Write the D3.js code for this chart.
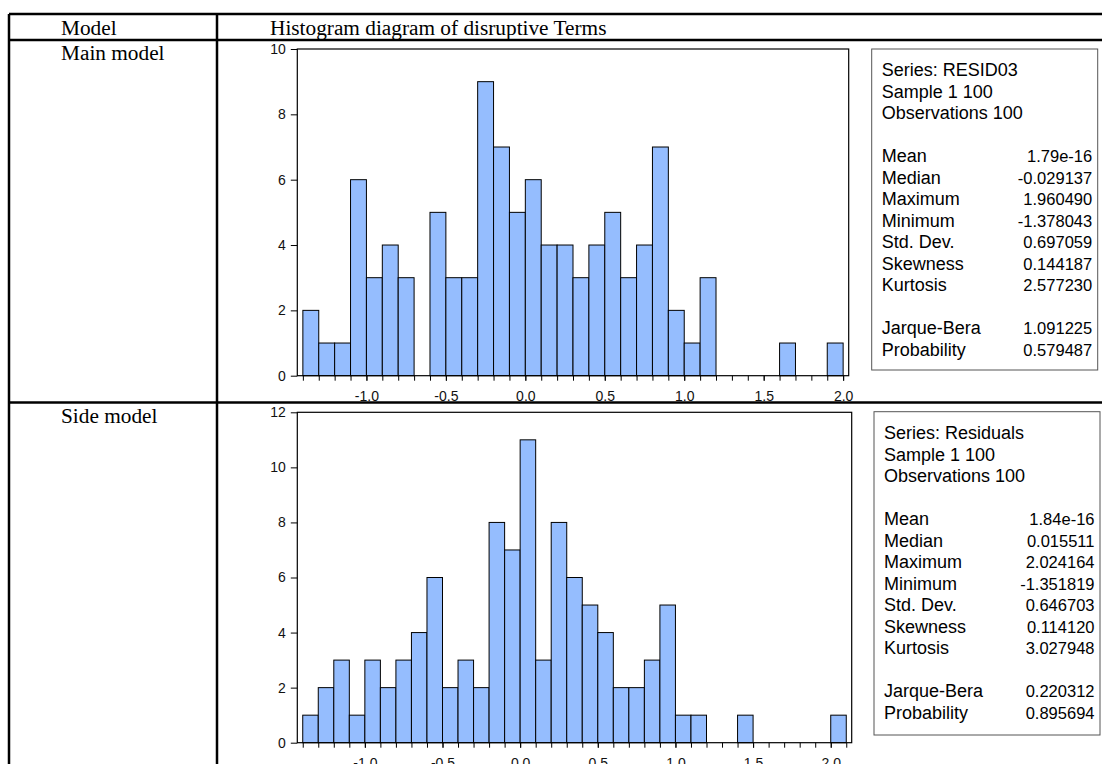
<!DOCTYPE html>
<html><head><meta charset="utf-8">
<script src="https://cdn.jsdelivr.net/npm/d3@7"></script>
<style>body{margin:0;background:#fff}svg{display:block}</style>
</head><body>
<svg id="c" width="1102" height="764"></svg>
<script>
// ---------- data ----------
const headers = ["Model", "Histogram diagram of disruptive Terms"];
const rowLabels = ["Main model", "Side model"];
const binStart = -1.4, binWidth = 0.1;
const mainCounts = [2,1,1,6,3,4,3,0,5,3,3,9,7,5,6,4,4,3,4,5,3,4,7,2,1,3,0,0,0,0,1,0,0,1];
const sideCounts = [1,2,3,1,3,2,3,4,6,2,3,2,8,7,11,3,8,6,5,4,2,2,3,5,1,1,0,0,1,0,0,0,0,0,1];
const mainYTicks = [0,2,4,6,8,10];
const sideYTicks = [0,2,4,6,8,10,12];
const xTickLabels = [-1.0,-0.5,0.0,0.5,1.0,1.5,2.0];
const mainHeader = ["Series: RESID03","Sample 1 100","Observations 100"];
const sideHeader = ["Series: Residuals","Sample 1 100","Observations 100"];
const statLabels = ["Mean","Median","Maximum","Minimum","Std. Dev.","Skewness","Kurtosis"];
const mainStats = ["1.79e-16","-0.029137","1.960490","-1.378043","0.697059","0.144187","2.577230"];
const sideStats = ["1.84e-16","0.015511","2.024164","-1.351819","0.646703","0.114120","3.027948"];
const testLabels = ["Jarque-Bera","Probability"];
const mainTests = ["1.091225","0.579487"];
const sideTests = ["0.220312","0.895694"];

// ---------- layout ----------
const svg = d3.select("#c");
const serif = "'Liberation Serif','Times New Roman',serif";
const sans = "'Liberation Sans',Arial,sans-serif";

const T = {left: 9, right: 1110, top: 14, head: 40, mid: 402.5, bottom: 800, col: 217};
const grid = svg.append("g").attr("stroke","#000").attr("stroke-width",2.5);
[[T.left,T.top,T.right,T.top],[T.left,T.head,T.right,T.head],[T.left,T.mid,T.right,T.mid],
 [T.left,T.top,T.left,T.bottom],[T.col,T.top,T.col,T.bottom]].forEach(l=>
  grid.append("line").attr("x1",l[0]).attr("y1",l[1]).attr("x2",l[2]).attr("y2",l[3]));

const tt = svg.append("g").attr("font-family",serif).attr("font-size",21.3).attr("fill","#000");
tt.append("text").attr("x",61).attr("y",35).text(headers[0]);
tt.append("text").attr("x",270).attr("y",35).text(headers[1]);
tt.append("text").attr("x",61).attr("y",60).text(rowLabels[0]);
tt.append("text").attr("x",61).attr("y",423).text(rowLabels[1]);

const fmt1 = d => d.toFixed(1);

function histogram(counts, yTicks, box, header, stats, tests, sbox) {
  const nb = counts.length;
  const bins = counts.map((c,i)=>({x0: binStart + i*binWidth, x1: binStart + (i+1)*binWidth, c}));
  const pad = 0.035;
  const x = d3.scaleLinear().domain([binStart - pad, binStart + nb*binWidth + pad]).range([box.l, box.r]);
  const y = d3.scaleLinear().domain([0, yTicks[yTicks.length-1]]).range([box.b, box.t]);
  const g = svg.append("g");
  g.selectAll("rect.bar").data(bins.filter(d=>d.c>0)).join("rect")
    .attr("x", d=>x(d.x0)).attr("width", d=>x(d.x1)-x(d.x0))
    .attr("y", d=>y(d.c)).attr("height", d=>y(0)-y(d.c))
    .attr("fill","#95bdfe").attr("stroke","#000").attr("stroke-width",1);
  g.append("rect").attr("x",box.l).attr("y",box.t).attr("width",box.r-box.l).attr("height",box.b-box.t)
    .attr("fill","none").attr("stroke","#000").attr("stroke-width",1.2);
  const ya = d3.axisLeft(y).tickValues(yTicks).tickSize(6.5).tickPadding(5).tickFormat(d3.format("d"));
  g.append("g").attr("transform",`translate(${box.l},0)`).call(ya)
    .call(s=>{s.select(".domain").remove(); s.selectAll("text").attr("font-family",sans).attr("font-size",14).attr("fill","#111");
      s.selectAll("line").attr("stroke","#000");});
  const minor = d3.range(nb+1).map(i=>binStart + i*binWidth);
  const xm = d3.axisBottom(x).tickValues(minor).tickSize(5).tickFormat("");
  g.append("g").attr("transform",`translate(0,${box.b})`).call(xm)
    .call(s=>{s.select(".domain").remove(); s.selectAll("line").attr("stroke","#000");});
  const xa = d3.axisBottom(x).tickValues(xTickLabels).tickSize(5).tickPadding(10).tickFormat(fmt1);
  g.append("g").attr("transform",`translate(0,${box.b})`).call(xa)
    .call(s=>{s.select(".domain").remove(); s.selectAll("text").attr("font-family",sans).attr("font-size",14).attr("fill","#111");
      s.selectAll("line").attr("stroke","#000");});
  const sb = svg.append("g");
  sb.append("rect").attr("x",sbox.l).attr("y",sbox.t).attr("width",sbox.r-sbox.l).attr("height",sbox.b-sbox.t)
    .attr("fill","#fff").attr("stroke","#555").attr("stroke-width",1);
  const lh = 21.5, fs = 18;
  const y0 = sbox.t + 21;
  const lines = [];
  header.forEach((h,i)=>lines.push({slot:i, l:h}));
  statLabels.forEach((s,i)=>lines.push({slot:4+i, l:s, v:stats[i]}));
  testLabels.forEach((s,i)=>lines.push({slot:12+i, l:s, v:tests[i]}));
  const tx = sb.append("g").attr("font-family",sans).attr("fill","#000");
  lines.forEach(d=>{
    const yy = y0 + d.slot*lh + fs*0.36;
    tx.append("text").attr("x",sbox.l+10).attr("y",yy).attr("font-size",fs).text(d.l);
    if (d.v) tx.append("text").attr("x",sbox.r-5.5).attr("y",yy).attr("font-size",16.5)
      .attr("text-anchor","end").text(d.v);
  });
}

histogram(mainCounts, mainYTicks, {l:297.3, r:848.7, t:49, b:375.7}, mainHeader, mainStats, mainTests,
  {l:871.7, r:1097.7, t:49, b:370});
histogram(sideCounts, sideYTicks, {l:297.3, r:851.7, t:412.3, b:742.7}, sideHeader, sideStats, sideTests,
  {l:874, r:1100, t:411.7, b:735});
</script>
</body></html>
